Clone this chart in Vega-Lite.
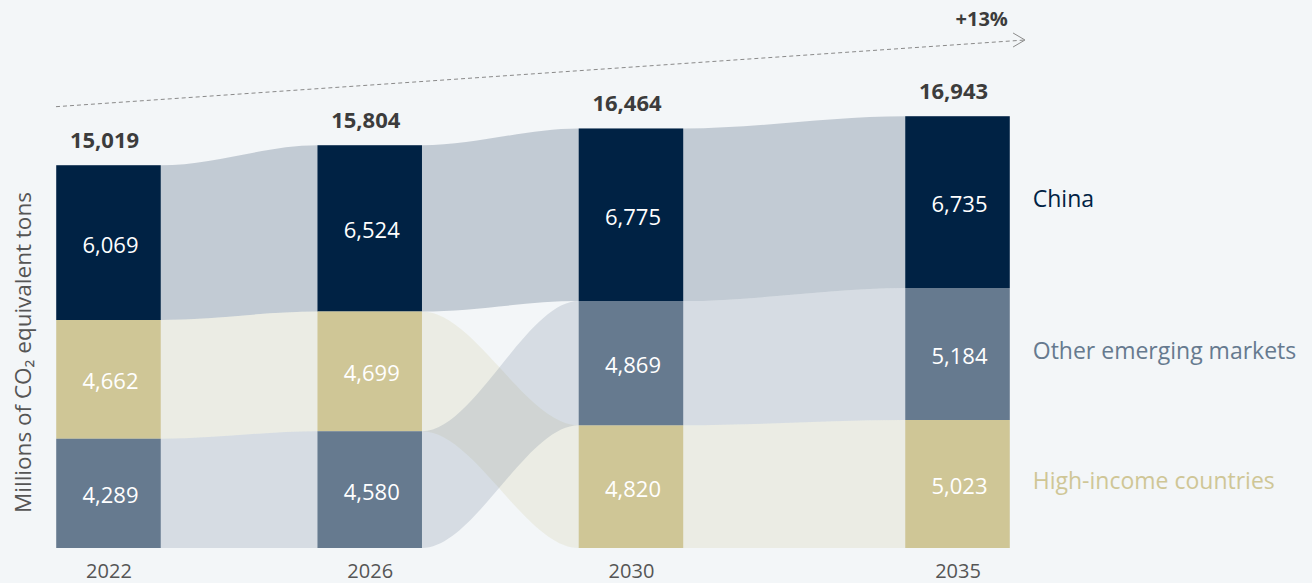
{
  "$schema": "https://vega.github.io/schema/vega-lite/v6.json",
  "width": 1312,
  "height": 548,
  "autosize": {"type": "none"},
  "padding": {"left": 0, "top": 0, "right": 0, "bottom": 35},
  "background": "#f3f6f8",
  "config": {"view": {"stroke": null}, "font": "Open Sans"},
  "datasets": {
    "emissions": [
      {"year": 2022, "region": "China", "value": 6069},
      {"year": 2022, "region": "High-income countries", "value": 4662},
      {"year": 2022, "region": "Other emerging markets", "value": 4289},
      {"year": 2026, "region": "China", "value": 6524},
      {"year": 2026, "region": "High-income countries", "value": 4699},
      {"year": 2026, "region": "Other emerging markets", "value": 4580},
      {"year": 2030, "region": "China", "value": 6775},
      {"year": 2030, "region": "High-income countries", "value": 4820},
      {"year": 2030, "region": "Other emerging markets", "value": 4869},
      {"year": 2035, "region": "China", "value": 6735},
      {"year": 2035, "region": "High-income countries", "value": 5023},
      {"year": 2035, "region": "Other emerging markets", "value": 5184}
    ],
    "totals": [
      {"year": 2022, "total": 15019},
      {"year": 2026, "total": 15804},
      {"year": 2030, "total": 16464},
      {"year": 2035, "total": 16943}
    ],
    "trend": [
      {"label": "+13%", "xStart": 2021.196, "yStart": 17320, "xEnd": 2036.033, "yEnd": 19937, "xLabel": 2035.37, "yLabel": 20722}
    ]
  },
  "encoding": {
    "x": {"type": "quantitative", "scale": {"domain": [2020.3387, 2040.428], "nice": false, "zero": false}, "axis": {"values": [2022, 2026, 2030, 2035], "format": "d", "labelFontSize": 20, "labelColor": "#555555", "labelFont": "Open Sans", "domain": false, "ticks": false, "grid": false, "title": null, "labelPadding": 13, "labelBaseline": "top"}},
    "y": {"type": "quantitative", "scale": {"domain": [0, 21507], "nice": false, "zero": true}, "axis": {"title": "Millions of CO₂ equivalent tons", "labels": false, "ticks": false, "domain": false, "grid": false, "titleX": 23, "titleY": 352, "titleAngle": 270, "titleAlign": "center", "titleBaseline": "middle", "titleFontSize": 22.5, "titleFontWeight": "normal", "titleColor": "#555555", "titleFont": "Open Sans"}}
  },
  "layer": [
    {
      "data": {"name": "emissions"},
      "transform": [
        {"stack": "value", "groupby": ["year"], "sort": [{"field": "value", "order": "ascending"}], "as": ["y0", "y1"]},
        {"calculate": "datum.year - 0.8", "as": "xl"},
        {"calculate": "datum.year + 0.8", "as": "xr"},
        {"fold": ["xl", "xr"], "as": ["edge", "xpos"]}
      ],
      "mark": {"type": "area", "interpolate": "monotone", "fillOpacity": 0.2},
      "encoding": {
        "x": {"field": "xpos", "type": "quantitative"},
        "y": {"field": "y1", "type": "quantitative", "stack": null},
        "y2": {"field": "y0"},
        "fill": {"field": "region", "type": "nominal", "scale": {"domain": ["China", "Other emerging markets", "High-income countries"], "range": ["#002244", "#667a8f", "#cfc696"]}, "legend": null}
      }
    },
    {
      "data": {"name": "emissions"},
      "transform": [
        {"stack": "value", "groupby": ["year"], "sort": [{"field": "value", "order": "ascending"}], "as": ["y0", "y1"]},
        {"calculate": "datum.year - 0.8", "as": "xl"},
        {"calculate": "datum.year + 0.8", "as": "xr"}
      ],
      "mark": {"type": "rect"},
      "encoding": {
        "x": {"field": "xl", "type": "quantitative"},
        "x2": {"field": "xr"},
        "y": {"field": "y1", "type": "quantitative"},
        "y2": {"field": "y0"},
        "fill": {"field": "region", "type": "nominal", "legend": null}
      }
    },
    {
      "data": {"name": "emissions"},
      "transform": [
        {"stack": "value", "groupby": ["year"], "sort": [{"field": "value", "order": "ascending"}], "as": ["y0", "y1"]},
        {"calculate": "(datum.y0 + datum.y1) / 2", "as": "ymid"}
      ],
      "mark": {"type": "text", "color": "#ffffff", "fontSize": 22, "baseline": "middle", "align": "center", "dx": 2, "dy": 3},
      "encoding": {
        "x": {"field": "year", "type": "quantitative"},
        "y": {"field": "ymid", "type": "quantitative"},
        "text": {"field": "value", "type": "quantitative", "format": ","}
      }
    },
    {
      "data": {"name": "emissions"},
      "transform": [
        {"stack": "value", "groupby": ["year"], "sort": [{"field": "value", "order": "ascending"}], "as": ["y0", "y1"]},
        {"calculate": "(datum.y0 + datum.y1) / 2", "as": "ymid"},
        {"calculate": "datum.year + 0.8", "as": "xr"},
        {"filter": "datum.year == 2035"}
      ],
      "mark": {"type": "text", "fontSize": 23, "baseline": "middle", "align": "left", "dx": 23, "dy": -2},
      "encoding": {
        "x": {"field": "xr", "type": "quantitative"},
        "y": {"field": "ymid", "type": "quantitative"},
        "text": {"field": "region", "type": "nominal"},
        "fill": {"field": "region", "type": "nominal", "legend": null}
      }
    },
    {
      "data": {"name": "totals"},
      "mark": {"type": "text", "color": "#3c3c3c", "fontSize": 22, "fontWeight": "bold", "baseline": "alphabetic", "align": "center", "dx": -4, "dy": -17},
      "encoding": {
        "x": {"field": "year", "type": "quantitative"},
        "y": {"field": "total", "type": "quantitative"},
        "text": {"field": "total", "type": "quantitative", "format": ","}
      }
    },
    {
      "data": {"name": "trend"},
      "mark": {"type": "rule", "color": "#8a8a8a", "strokeWidth": 1, "strokeDash": [4, 3]},
      "encoding": {
        "x": {"field": "xStart", "type": "quantitative"},
        "y": {"field": "yStart", "type": "quantitative"},
        "x2": {"field": "xEnd"},
        "y2": {"field": "yEnd"}
      }
    },
    {
      "data": {"name": "trend"},
      "mark": {"type": "point", "shape": "M-1.7,-1L0,0L-1.7,1", "filled": false, "size": 196, "strokeWidth": 1, "color": "#8a8a8a", "opacity": 1},
      "encoding": {
        "x": {"field": "xEnd", "type": "quantitative"},
        "y": {"field": "yEnd", "type": "quantitative"}
      }
    },
    {
      "data": {"name": "trend"},
      "mark": {"type": "text", "color": "#3c3c3c", "fontSize": 20, "fontWeight": "bold", "baseline": "middle", "align": "center"},
      "encoding": {
        "x": {"field": "xLabel", "type": "quantitative"},
        "y": {"field": "yLabel", "type": "quantitative"},
        "text": {"field": "label", "type": "nominal"}
      }
    }
  ]
}
